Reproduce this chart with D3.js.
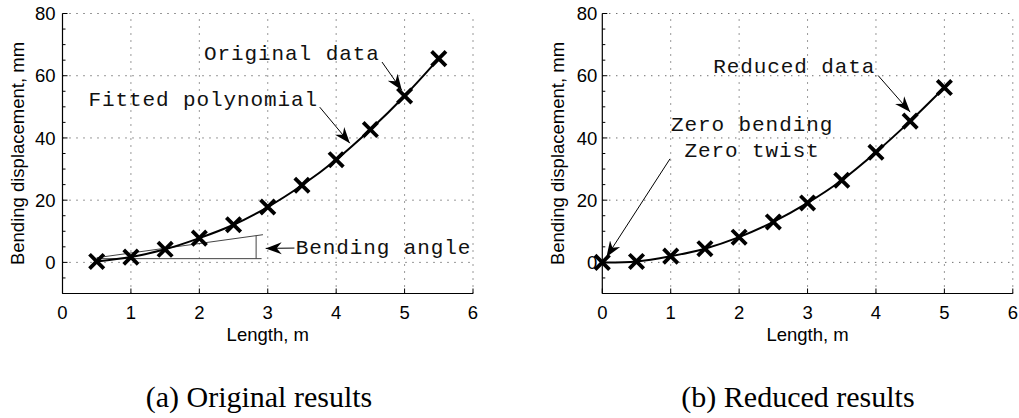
<!DOCTYPE html>
<html>
<head>
<meta charset="utf-8">
<script src="https://cdn.jsdelivr.net/npm/d3@7"></script>
<style>
  body { margin: 0; background: #fff; }
  svg { display: block; }
  .tick-label, .axis-title { font-family: "Liberation Sans", Arial, sans-serif; font-size: 18.5px; fill: #000; }
  .note { font-family: "Liberation Mono", "Courier New", monospace; font-size: 21px; letter-spacing: 0.9px; fill: #111; }
  .caption { font-family: "Liberation Serif", "Times New Roman", serif; font-size: 30px; fill: #000; }
</style>
</head>
<body>
<svg id="viz" width="1019" height="418"></svg>
<script>
// panel (a): original data
var lengthA = [0.5, 1, 1.5, 2, 2.5, 3, 3.5, 4, 4.5, 5, 5.5];
var dispA   = [0.3, 1.7, 4.2, 7.8, 12.1, 17.8, 24.8, 33, 42.7, 53.5, 65.5];

// panel (b): reduced data
var lengthB = [0, 0.5, 1, 1.5, 2, 2.5, 3, 3.5, 4, 4.5, 5];
var dispB   = [0, 0.3, 2, 4.4, 8.1, 13, 19.1, 26.4, 35.4, 45.4, 56.2];

var xTicks = [0, 1, 2, 3, 4, 5, 6];
var yTicks = [0, 20, 40, 60, 80];
var yMinor = d3.range(-10, 81, 5);

var xTitle = "Length, m";
var yTitle = "Bending displacement, mm";
var captions = ["(a) Original results", "(b) Reduced results"];

// annotations, in data units
var notesA = [
  {text: "Original data", x: 2.07, y: 67.2, anchor: "start"},
  {text: "Fitted polynomial", x: 0.38, y: 52.3, anchor: "start"},
  {text: "Bending angle", x: 3.41, y: 4.9, anchor: "start"}
];
var arrowsA = [
  {x1: 4.67, y1: 64.4, x2: 4.96, y2: 55.3},
  {x1: 3.76, y1: 49.9, x2: 4.2, y2: 38.3},
  {x1: 3.39, y1: 4.6, x2: 2.97, y2: 4.5}
];
// bending angle construction lines
var angleLines = [
  {x1: 0.5, y1: 1.5, x2: 2.93, y2: 8.9},
  {x1: 0.5, y1: 1.2, x2: 2.91, y2: 1.2},
  {x1: 2.83, y1: 1.2, x2: 2.83, y2: 8.6}
];

var notesB = [
  {text: "Reduced data", x: 1.62, y: 63.1, anchor: "start"},
  {text: "Zero bending", x: 2.19, y: 44.3, anchor: "middle"},
  {text: "Zero twist", x: 2.19, y: 36.1, anchor: "middle"}
];
var arrowsB = [
  {x1: 4.03, y1: 60.1, x2: 4.5, y2: 48.3},
  {x1: 0.99, y1: 33.3, x2: 0.06, y2: 1.7}
];

var svg = d3.select("#viz");

svg.append("defs").append("marker")
    .attr("id", "head")
    .attr("viewBox", "-16 -7 18 14")
    .attr("refX", 0)
    .attr("refY", 0)
    .attr("markerWidth", 18)
    .attr("markerHeight", 14)
    .attr("markerUnits", "userSpaceOnUse")
    .attr("orient", "auto")
    .append("path")
    .attr("d", "M0,0L-16,-6L-11,0L-16,6Z")
    .attr("fill", "#000");

var panels = [
  {left: 62.5, xs: lengthA, ys: dispA, notes: notesA, arrows: arrowsA, lines: angleLines,
   labelGap: 7, titleX: 17.5, cap: captions[0], capX: 259},
  {left: 602.3, xs: lengthB, ys: dispB, notes: notesB, arrows: arrowsB, lines: [],
   labelGap: 5, titleX: 557, cap: captions[1], capX: 798}
];

panels.forEach(function(p) {
  var x = d3.scaleLinear().domain([0, 6]).range([p.left, p.left + 410.5]);
  var y = d3.scaleLinear().domain([-10, 80]).range([293.5, 13.5]);
  var g = svg.append("g");

  // dotted grid
  g.append("g").selectAll("line")
    .data(xTicks.slice(1))
    .enter().append("line")
    .attr("x1", function(d) { return x(d); })
    .attr("x2", function(d) { return x(d); })
    .attr("y1", y(-10)).attr("y2", y(80))
    .attr("stroke", "#333").attr("stroke-width", 1)
    .attr("stroke-dasharray", "1,6");
  g.append("g").selectAll("line")
    .data(yTicks)
    .enter().append("line")
    .attr("x1", x(0)).attr("x2", x(6))
    .attr("y1", function(d) { return y(d); })
    .attr("y2", function(d) { return y(d); })
    .attr("stroke", "#333").attr("stroke-width", 1)
    .attr("stroke-dasharray", "1,6");

  // axes lines (left and bottom only)
  g.append("line")
    .attr("x1", x(0)).attr("x2", x(0)).attr("y1", y(-10)).attr("y2", y(80))
    .attr("stroke", "#000").attr("stroke-width", 1.2);
  g.append("line")
    .attr("x1", x(0)).attr("x2", x(6)).attr("y1", y(-10)).attr("y2", y(-10))
    .attr("stroke", "#000").attr("stroke-width", 1.2);

  // inward ticks
  g.append("g").selectAll("line")
    .data(yMinor)
    .enter().append("line")
    .attr("x1", x(0))
    .attr("x2", function(d) { return x(0) + (d % 20 === 0 ? 5 : 3); })
    .attr("y1", function(d) { return y(d); })
    .attr("y2", function(d) { return y(d); })
    .attr("stroke", "#000");
  g.append("g").selectAll("line")
    .data(xTicks)
    .enter().append("line")
    .attr("x1", function(d) { return x(d); })
    .attr("x2", function(d) { return x(d); })
    .attr("y1", y(-10)).attr("y2", y(-10) - 5)
    .attr("stroke", "#000");

  // tick labels
  g.append("g").selectAll("text")
    .data(yTicks)
    .enter().append("text")
    .attr("class", "tick-label")
    .attr("x", x(0) - p.labelGap)
    .attr("y", function(d) { return y(d); })
    .attr("dy", "0.36em")
    .attr("text-anchor", "end")
    .text(function(d) { return d; });
  g.append("g").selectAll("text")
    .data(xTicks)
    .enter().append("text")
    .attr("class", "tick-label")
    .attr("x", function(d) { return x(d); })
    .attr("y", 312)
    .attr("dy", "0.36em")
    .attr("text-anchor", "middle")
    .text(function(d) { return d; });

  // axis titles
  g.append("text")
    .attr("class", "axis-title")
    .attr("x", x(3)).attr("y", 334).attr("dy", "0.36em")
    .attr("text-anchor", "middle")
    .text(xTitle);
  g.append("text")
    .attr("class", "axis-title")
    .attr("transform", "translate(" + p.titleX + "," + y(35) + ") rotate(-90)")
    .attr("dy", "0.36em")
    .attr("text-anchor", "middle")
    .text(yTitle);

  // bending angle construction
  g.append("g").selectAll("line")
    .data(p.lines)
    .enter().append("line")
    .attr("x1", function(d) { return x(d.x1); })
    .attr("y1", function(d) { return y(d.y1); })
    .attr("x2", function(d) { return x(d.x2); })
    .attr("y2", function(d) { return y(d.y2); })
    .attr("stroke", "#444").attr("stroke-width", 1);

  // fitted curve
  var line = d3.line()
    .x(function(d, i) { return x(p.xs[i]); })
    .y(function(d) { return y(d); })
    .curve(d3.curveCatmullRom);
  g.append("path")
    .attr("d", line(p.ys))
    .attr("fill", "none")
    .attr("stroke", "#000")
    .attr("stroke-width", 2);

  // x markers
  var r = 7.2;
  g.append("g").selectAll("path")
    .data(p.ys)
    .enter().append("path")
    .attr("transform", function(d, i) { return "translate(" + x(p.xs[i]) + "," + y(d) + ")"; })
    .attr("d", "M" + (-r) + "," + (-r) + "L" + r + "," + r + "M" + (-r) + "," + r + "L" + r + "," + (-r))
    .attr("stroke", "#000")
    .attr("stroke-width", 3.8)
    .attr("fill", "none");

  // annotations
  g.append("g").selectAll("line")
    .data(p.arrows)
    .enter().append("line")
    .attr("x1", function(d) { return x(d.x1); })
    .attr("y1", function(d) { return y(d.y1); })
    .attr("x2", function(d) { return x(d.x2); })
    .attr("y2", function(d) { return y(d.y2); })
    .attr("stroke", "#000").attr("stroke-width", 1)
    .attr("marker-end", "url(#head)");
  g.append("g").selectAll("text")
    .data(p.notes)
    .enter().append("text")
    .attr("class", "note")
    .attr("x", function(d) { return x(d.x); })
    .attr("y", function(d) { return y(d.y); })
    .attr("dy", "0.32em")
    .attr("text-anchor", function(d) { return d.anchor; })
    .text(function(d) { return d.text; });

  // caption
  svg.append("text")
    .attr("class", "caption")
    .attr("x", p.capX).attr("y", 407)
    .attr("text-anchor", "middle")
    .text(p.cap);
});
</script>
</body>
</html>
